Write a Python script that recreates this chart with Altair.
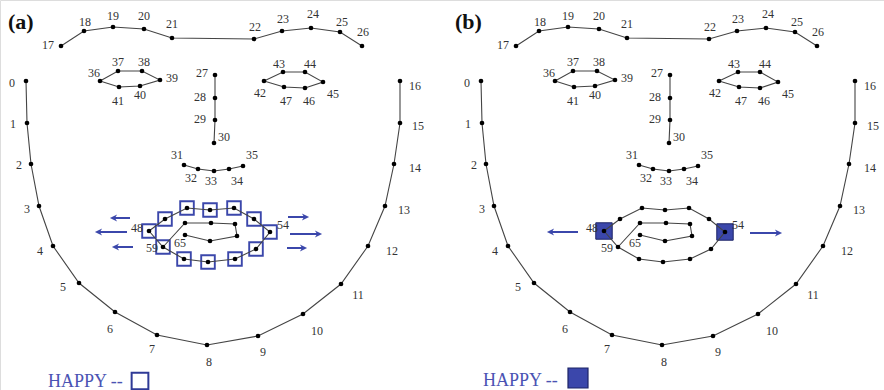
import altair as alt
import pandas as pd

# ---------------------------------------------------------------
# 66-point facial landmark layout (x, y in pixels, y grows downward)
# ---------------------------------------------------------------
LANDMARK_X = [
    26, 27, 31, 39, 53, 79, 115, 157, 207, 258, 303, 341, 368, 385, 394, 400, 400,  # jaw 0-16
    61, 84, 113, 144, 172, 254, 282, 311, 340, 362,                                 # brows 17-26
    215, 215, 215, 214,                                                             # nose bridge 27-30
    184, 198, 214, 229, 243,                                                        # nostrils 31-35
    100, 118, 142, 160, 140, 119,                                                   # eye 36-41
    264, 283, 305, 323, 305, 284,                                                   # eye 42-47
    149, 165, 187, 210, 234, 254, 270, 256, 235, 208, 184, 163,                     # outer lip 48-59
    185, 211, 235, 237, 210, 185,                                                   # inner lip 60-65
]
LANDMARK_Y = [
    81, 123, 164, 206, 246, 283, 312, 335, 345, 336, 314, 284, 246, 206, 164, 123, 81,
    46, 31, 27, 29, 38, 39, 31, 28, 32, 46,
    75, 98, 120, 143,
    165, 169, 171, 169, 166,
    81, 71, 71, 80, 86, 87,
    81, 72, 72, 82, 88, 87,
    231, 219, 208, 210, 208, 219, 232, 249, 259, 262, 259, 247,
    223, 223, 224, 236, 241, 235,
]

# Which landmarks carry a number
LABELLED = list(range(0, 48)) + [48, 54, 59, 65]

# Connected contours (landmark indices in drawing order)
CONTOURS = {
    "jaw": list(range(0, 17)),
    "brows": list(range(17, 27)),
    "bridge": list(range(27, 31)),
    "nostrils": list(range(31, 36)),
    "eye_r": [36, 37, 38, 39, 40, 41, 36],
    "eye_l": [42, 43, 44, 45, 46, 47, 42],
    "lip_outer": list(range(48, 60)) + [48],
    "lip_inner": [59, 60, 61, 62, 63, 64, 65],
}

# Landmarks highlighted in each panel
PANEL_A_MARKED = list(range(48, 60))
PANEL_B_MARKED = [48, 54]

# Displacement arrows: tail x, tip x, y (panel-local pixels)
ARROW_PANEL = ["a", "a", "a", "a", "a", "a", "b", "b"]
ARROW_TAIL = [130, 127, 133, 288, 290, 287, 123, 295]
ARROW_TIP = [110, 95, 112, 309, 322, 307, 92, 327]
ARROW_Y = [218, 232, 247, 217, 234, 248, 232, 233]

PANELS = ["a", "b"]

# ---------------------------------------------------------------
# Layout / styling
# ---------------------------------------------------------------
W, H = 884, 390
PANEL_SHIFT = {"a": 0, "b": 455}
BLUE = "#3b47ab"
TEXT_BLUE = "#4a53b3"
LINE_GREY = "#444444"
SERIF = "'Liberation Serif', 'Times New Roman', 'DejaVu Serif', serif"

# text offsets of each number relative to its landmark
LABEL_OFFSET = {
    0: (-14, 2), 1: (-14, 1), 2: (-12, 1), 3: (-12, 3), 4: (-13, 5), 5: (-16, 4),
    6: (-5, 17), 7: (-5, 14), 8: (2, 17), 9: (5, 16), 10: (14, 17), 11: (17, 11),
    12: (24, 5), 13: (19, 4), 14: (21, 4), 15: (18, 3), 16: (15, 5),
    17: (-13, -1), 18: (1, -9), 19: (0, -11), 20: (0, -13), 21: (0, -14),
    22: (1, -12), 23: (1, -12), 24: (2, -14), 25: (2, -10), 26: (1, -14),
    27: (-13, -2), 28: (-15, -1), 29: (-15, -1), 30: (10, -6),
    31: (-7, -10), 32: (-7, 9), 33: (-3, 10), 34: (8, 12), 35: (9, -11),
    36: (-6, -8), 37: (0, -9), 38: (2, -9), 39: (12, -2), 40: (0, 9), 41: (-1, 14),
    42: (-4, 12), 43: (-4, -8), 44: (5, -8), 45: (10, 12), 46: (4, 13), 47: (2, 14),
    48: (-12, -3), 54: (13, -7), 59: (-11, 1), 65: (-5, 8),
}

# ---------------------------------------------------------------
# Tables
# ---------------------------------------------------------------
pts, lines, labels, marks = [], [], [], []
for p in PANELS:
    sx = PANEL_SHIFT[p]
    for i, (x, y) in enumerate(zip(LANDMARK_X, LANDMARK_Y)):
        pts.append({"panel": p, "idx": i, "x": x + sx, "y": y})
    for name, seq in CONTOURS.items():
        for k, i in enumerate(seq):
            lines.append({"grp": f"{p}_{name}", "order": k,
                          "x": LANDMARK_X[i] + sx, "y": LANDMARK_Y[i]})
    for i in LABELLED:
        dx, dy = LABEL_OFFSET[i]
        labels.append({"txt": str(i), "x": LANDMARK_X[i] + sx + dx,
                       "y": LANDMARK_Y[i] + dy})
    for i in (PANEL_A_MARKED if p == "a" else PANEL_B_MARKED):
        marks.append({"panel": p, "x": LANDMARK_X[i] + sx, "y": LANDMARK_Y[i]})

pts = pd.DataFrame(pts)
lines = pd.DataFrame(lines)
labels = pd.DataFrame(labels)
marks = pd.DataFrame(marks)

HEAD = 3.5  # half length of arrow head symbol
arrows = pd.DataFrame({
    "panel": ARROW_PANEL,
    "tail": [t + PANEL_SHIFT[p] for t, p in zip(ARROW_TAIL, ARROW_PANEL)],
    "tip": [t + PANEL_SHIFT[p] for t, p in zip(ARROW_TIP, ARROW_PANEL)],
    "y": ARROW_Y,
})
arrows["dir"] = ["r" if tp > tl else "l" for tl, tp in zip(arrows["tail"], arrows["tip"])]
arrows["head_x"] = [tp - HEAD if d == "r" else tp + HEAD
                    for tp, d in zip(arrows["tip"], arrows["dir"])]
arrows["shaft_end"] = [tp - 2 * HEAD * 0.6 if d == "r" else tp + 2 * HEAD * 0.6
                       for tp, d in zip(arrows["tip"], arrows["dir"])]

titles = pd.DataFrame({"txt": ["(a)", "(b)"], "x": [8, 455], "y": [29, 29]})
legend_txt = pd.DataFrame({"txt": ["HAPPY --", "HAPPY --"], "x": [48, 483], "y": [387, 386]})
legend_box = pd.DataFrame({"panel": ["a", "b"], "x": [140, 578], "y": [381, 378]})

XS = alt.Scale(domain=[0, W], nice=False, zero=False)
X = alt.X("x:Q", scale=XS, axis=None)
Y = alt.Y("y:Q", scale=alt.Scale(domain=[0, H], nice=False, zero=False, reverse=True), axis=None)

# highlighted landmarks
sq_a = alt.Chart(marks[marks.panel == "a"]).mark_point(
    shape="square", size=185, filled=False, stroke=BLUE, strokeWidth=1.9, opacity=1
).encode(x=X, y=Y)
sq_b = alt.Chart(marks[marks.panel == "b"]).mark_point(
    shape="square", size=270, filled=True, fill=BLUE, stroke="#1d2466",
    strokeWidth=1, opacity=1
).encode(x=X, y=Y)

contours = alt.Chart(lines).mark_line(color=LINE_GREY, strokeWidth=1.1).encode(
    x=X, y=Y, detail="grp:N", order="order:Q"
)

dots = alt.Chart(pts).mark_circle(size=22, color="black", opacity=1).encode(x=X, y=Y)

nums = alt.Chart(labels).mark_text(
    font=SERIF, fontSize=12, color="#333333", align="center", baseline="middle"
).encode(x=X, y=Y, text="txt:N")

shafts = alt.Chart(arrows).mark_rule(color=BLUE, strokeWidth=2).encode(
    x=alt.X("tail:Q", scale=XS, axis=None), x2="shaft_end:Q", y=Y
)
head_r = alt.Chart(arrows[arrows.dir == "r"]).mark_point(
    shape="M1,0L-1,-1L-0.4,0L-1,1Z", size=52, filled=True, color=BLUE, opacity=1
).encode(x=alt.X("head_x:Q", scale=XS, axis=None), y=Y)
head_l = alt.Chart(arrows[arrows.dir == "l"]).mark_point(
    shape="M-1,0L1,-1L0.4,0L1,1Z", size=52, filled=True, color=BLUE, opacity=1
).encode(x=alt.X("head_x:Q", scale=XS, axis=None), y=Y)

panel_titles = alt.Chart(titles).mark_text(
    font=SERIF, fontSize=22, fontWeight="bold", color="#111111", align="left",
    baseline="alphabetic"
).encode(x=X, y=Y, text="txt:N")

key_text = alt.Chart(legend_txt).mark_text(
    font=SERIF, fontSize=18, color=TEXT_BLUE, align="left", baseline="alphabetic"
).encode(x=X, y=Y, text="txt:N")
key_a = alt.Chart(legend_box[legend_box.panel == "a"]).mark_point(
    shape="square", size=280, filled=False, stroke="#2f3a96", strokeWidth=2, opacity=1
).encode(x=X, y=Y)
key_b = alt.Chart(legend_box[legend_box.panel == "b"]).mark_point(
    shape="square", size=400, filled=True, fill=BLUE, stroke="#1d2466",
    strokeWidth=1.2, opacity=1
).encode(x=X, y=Y)

chart = alt.layer(
    sq_a, sq_b, contours, dots, nums, shafts, head_r, head_l,
    panel_titles, key_text, key_a, key_b
).properties(
    width=W, height=H, padding=0, autosize=alt.AutoSizeParams(type="none")
).configure_view(stroke=None).configure(background="white")

chart.save("out.html", embed_options={"renderer": "svg", "actions": False})
